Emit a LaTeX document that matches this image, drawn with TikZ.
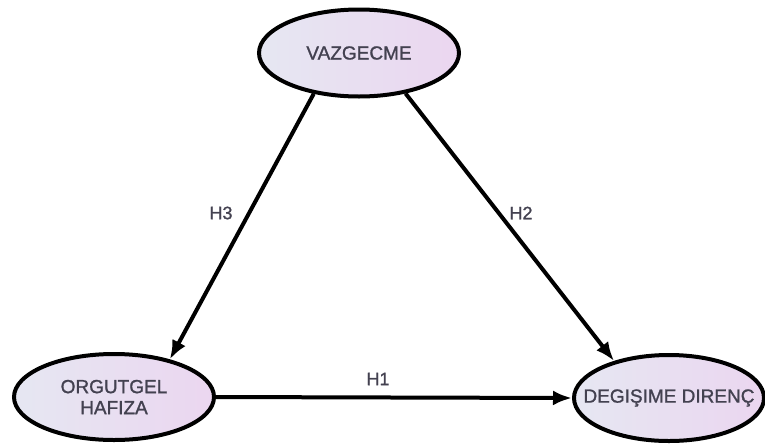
\documentclass[tikz,border=0pt]{standalone}
\usepackage{fontspec}
\setmainfont{Liberation Sans}
\newfontfamily\ellfont{Liberation Sans}[BoldFont={Liberation Sans},BoldFeatures={FakeBold=1.2}]
\usetikzlibrary{shapes.geometric,arrows.meta}
\definecolor{lavL}{HTML}{E6E7F2}
\definecolor{lavR}{HTML}{EBD6F0}
\definecolor{txt}{HTML}{434150}
\begin{document}
\begin{tikzpicture}[x=1pt,y=-1pt,
  ell/.style={ellipse, draw=black, line width=4pt, inner sep=0pt,
    left color=lavL, right color=lavR},
  elltext/.style={text=txt, align=center, inner sep=0pt,
    font=\ellfont\bfseries\fontsize{19}{21}\selectfont},
  conn/.style={line width=4pt, -{Latex[length=19pt,width=15pt]}},
  lbl/.style={font=\ellfont\bfseries\fontsize{18}{21}\selectfont, text=txt}]
\useasboundingbox (0,0) rectangle (765,445);
\node[ell, minimum width=200, minimum height=87,
  label={[elltext]center:VAZGECME}] (v) at (359,53) {};
\node[ell, minimum width=200, minimum height=86,
  label={[elltext]center:ORGUTGEL\\HAFIZA}] (o) at (114,397) {};
\node[ell, minimum width=190, minimum height=86,
  label={[elltext]center:DEGIŞIME DIRENÇ}] (d) at (669,398) {};
\draw[conn] (v.222) -- (o.34);
\draw[conn] (v.319) -- (d.146);
\draw[conn] (o.east) -- (d.west);
\node[lbl] (h3) at (221,213) {H3};
\node[lbl] (h2) at (521,213) {H2};
\node[lbl] (h1) at (378,379) {H1};
\end{tikzpicture}
\end{document}
